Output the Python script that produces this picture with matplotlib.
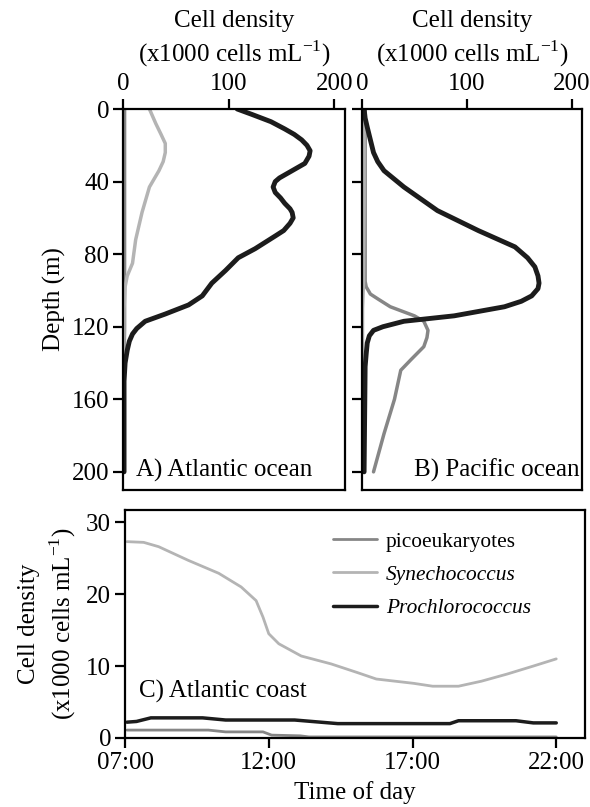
import matplotlib
matplotlib.use("Agg")
import matplotlib.pyplot as plt

plt.rcParams['font.family'] = ['Liberation Serif', 'DejaVu Serif']
plt.rcParams['mathtext.fontset'] = 'custom'
plt.rcParams['mathtext.rm'] = 'Liberation Serif'
plt.rcParams['lines.solid_joinstyle'] = 'round'
plt.rcParams['lines.solid_capstyle'] = 'round'

BLACK = "#1c1c1c"
LIGHT = "#b4b4b4"
MID = "#868686"

# --- Panel A: Atlantic ocean depth profiles (x1000 cells/mL vs depth m)
atl_pro_depth = [0, 3, 7, 11, 14, 17, 20, 23, 26, 30, 35, 38, 40, 43, 46, 49, 52, 55,
                 57, 60, 63, 67, 70, 77, 82, 89, 96, 103, 108, 113, 117, 121, 124,
                 128, 133, 140, 150, 200]
atl_pro_dens = [108, 122, 140, 153, 162, 169, 174, 177, 176, 172, 157, 148, 144, 142,
                144, 149, 153, 158, 160, 161, 158, 152, 144, 125, 109, 97, 84, 75,
                62, 40, 21, 13, 9, 6, 4, 2, 1, 1]
atl_syn_depth = [0, 8, 14, 19, 24, 29, 34, 43, 57, 72, 85, 92, 98, 110, 140, 200]
atl_syn_dens = [25, 31, 36, 40, 40, 38, 34, 25, 18, 12, 9, 4, 2, 1, 0.5, 0.5]
atl_pic_depth = [0, 40, 80, 120, 140, 200]
atl_pic_dens = [1.5, 1.5, 1.5, 1.5, 1, 1]

# --- Panel B: Pacific ocean depth profiles
pac_pro_depth = [0, 5, 10, 17, 24, 29, 34, 43, 56, 67, 76, 82, 87, 92, 96, 99, 103,
                 106, 109, 114, 117, 120, 122, 125, 129, 135, 142, 200]
pac_pro_dens = [2, 3, 5, 8, 11, 15, 21, 40, 72, 111, 146, 158, 165, 168, 169, 168,
                162, 152, 136, 88, 40, 20, 11, 7, 5, 4, 3, 2]
pac_pic_depth = [0, 50, 95, 98, 102, 105, 109, 114, 117, 122, 126, 131, 138, 144,
                 160, 179, 200]
pac_pic_dens = [3, 3, 3, 4, 8, 16, 27, 50, 59, 63, 62, 59, 47, 37, 31, 21, 11]
pac_syn_depth = [0, 50, 95, 110, 200]
pac_syn_dens = [2, 2, 1.5, 0.5, 0.5]

# --- Panel C: Atlantic coast time series (hour of day)
syn_hours = [7.07, 7.65, 8.17, 9.2, 10.26, 11.04, 11.56, 11.8, 12.0, 12.35, 13.13,
             14.17, 15.08, 15.74, 16.39, 17.04, 17.7, 18.6, 19.4, 20.3, 21.2, 22.0]
syn_vals = [27.3, 27.2, 26.6, 24.7, 22.9, 21.0, 19.1, 16.8, 14.5, 13.1, 11.4,
            10.3, 9.1, 8.2, 7.9, 7.6, 7.2, 7.2, 7.9, 8.9, 10.0, 11.0]
pro_hours = [7.07, 7.4, 7.9, 9.7, 10.5, 12.9, 14.4, 18.3, 18.6, 20.6, 21.2, 22.0]
pro_vals = [2.2, 2.3, 2.8, 2.8, 2.5, 2.5, 2.0, 2.0, 2.4, 2.4, 2.1, 2.1]
pic_hours = [7.07, 9.9, 10.5, 11.8, 12.1, 13.1, 13.4, 22.0]
pic_vals = [1.1, 1.1, 0.85, 0.85, 0.4, 0.3, 0.15, 0.15]

time_ticks = [7, 12, 17, 22]
time_labels = ["07:00", "12:00", "17:00", "22:00"]

FS = 18
W, H = 590, 807
fig = plt.figure(figsize=(W / 100, H / 100), dpi=100)

axA = fig.add_axes([123 / W, 1 - 490 / H, 222 / W, 381 / H])
axB = fig.add_axes([362 / W, 1 - 490 / H, 220 / W, 381 / H])
axC = fig.add_axes([125 / W, 1 - 738 / H, 460 / W, 228 / H])

density_label = "Cell density\n(x1000 cells mL$^{\\mathregular{-1}}$)"

profiles = {
    axA: [(atl_pic_dens, atl_pic_depth, MID, 2.5),
          (atl_syn_dens, atl_syn_depth, LIGHT, 2.5),
          (atl_pro_dens, atl_pro_depth, BLACK, 3.5)],
    axB: [(pac_pic_dens, pac_pic_depth, MID, 2.5),
          (pac_syn_dens, pac_syn_depth, LIGHT, 2.5),
          (pac_pro_dens, pac_pro_depth, BLACK, 3.5)],
}

for ax, lines in profiles.items():
    for dens, depth, col, lw in lines:
        ax.plot(dens, depth, color=col, lw=lw)
    ax.set_xlim(0, 210)
    ax.set_ylim(210, 0)
    ax.set_xticks([0, 100, 200])
    ax.set_yticks([0, 40, 80, 120, 160, 200])
    ax.xaxis.tick_top()
    ax.xaxis.set_label_position('top')
    ax.set_xlabel(density_label, fontsize=FS, labelpad=8, linespacing=1.3)

axA.set_ylabel("Depth (m)", fontsize=FS, labelpad=4)
axB.set_yticklabels([])
axA.text(0.06, 0.02, "A) Atlantic ocean", transform=axA.transAxes, fontsize=FS,
         ha='left', va='bottom')
axB.text(0.99, 0.02, "B) Pacific ocean", transform=axB.transAxes, fontsize=FS,
         ha='right', va='bottom')

axC.plot(pic_hours, pic_vals, color=MID, lw=2, label="picoeukaryotes")
axC.plot(syn_hours, syn_vals, color=LIGHT, lw=2, label="Synechococcus")
axC.plot(pro_hours, pro_vals, color=BLACK, lw=2.5, label="Prochlorococcus")
axC.set_xlim(7, 23)
axC.set_ylim(0, 31.7)
axC.set_xticks(time_ticks)
axC.set_xticklabels(time_labels)
axC.set_yticks([0, 10, 20, 30])
axC.set_xlabel("Time of day", fontsize=FS, labelpad=5)
axC.set_ylabel(density_label, fontsize=FS, labelpad=6, linespacing=1.3)
axC.text(7.5, 5.6, "C) Atlantic coast", fontsize=FS, ha='left', va='baseline')

leg = axC.legend(loc='upper left', bbox_to_anchor=(0.452, 0.905), frameon=False,
                 fontsize=15.4, handlelength=2.05, handletextpad=0.42,
                 labelspacing=0.62, borderpad=0, borderaxespad=0)
for t in leg.get_texts()[1:]:
    t.set_fontstyle('italic')

for ax in (axA, axB, axC):
    for s in ax.spines.values():
        s.set_linewidth(1.6)
    ax.tick_params(direction='out', length=7, width=1.6, labelsize=FS, pad=3)

fig.savefig("out.png", dpi=100)
